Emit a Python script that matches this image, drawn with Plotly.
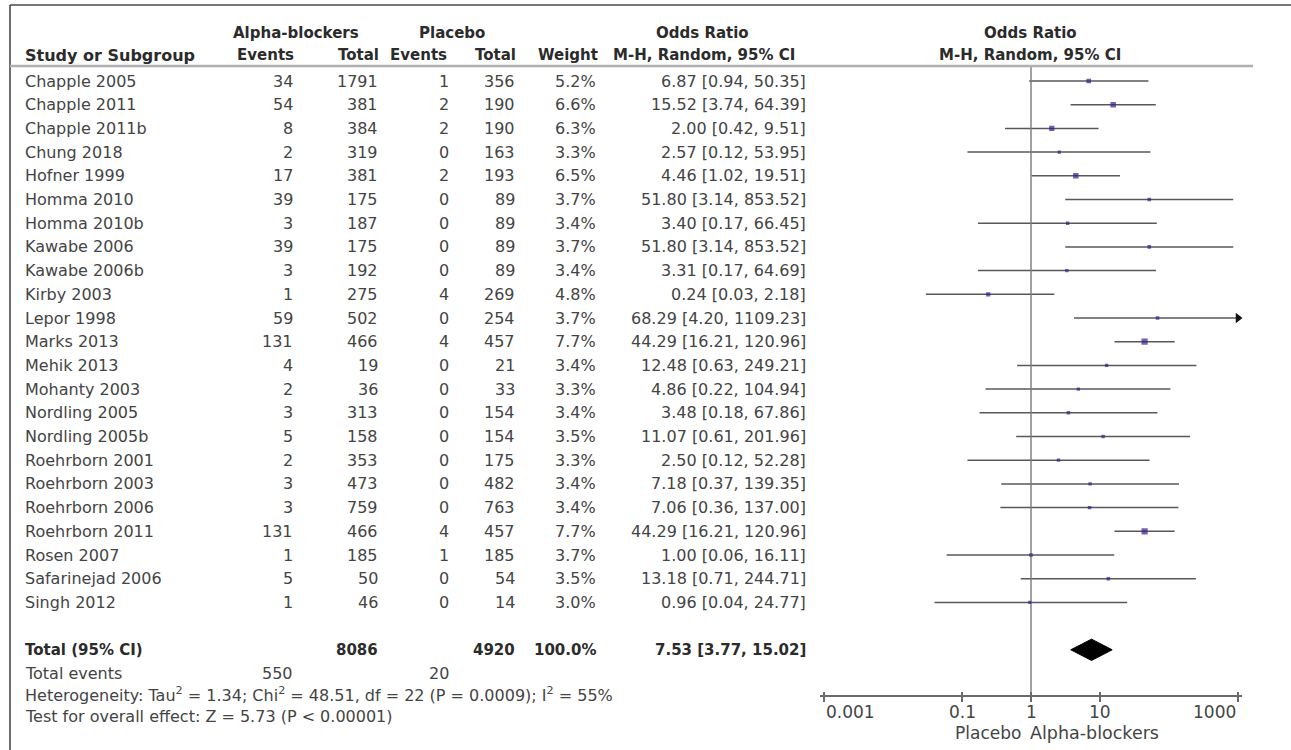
import plotly.graph_objects as go
import math

# ---------------- data ----------------
studies = ["Chapple 2005", "Chapple 2011", "Chapple 2011b", "Chung 2018", "Hofner 1999",
           "Homma 2010", "Homma 2010b", "Kawabe 2006", "Kawabe 2006b", "Kirby 2003",
           "Lepor 1998", "Marks 2013", "Mehik 2013", "Mohanty 2003", "Nordling 2005",
           "Nordling 2005b", "Roehrborn 2001", "Roehrborn 2003", "Roehrborn 2006",
           "Roehrborn 2011", "Rosen 2007", "Safarinejad 2006", "Singh 2012"]
alpha_events = [34, 54, 8, 2, 17, 39, 3, 39, 3, 1, 59, 131, 4, 2, 3, 5, 2, 3, 3, 131, 1, 5, 1]
alpha_total = [1791, 381, 384, 319, 381, 175, 187, 175, 192, 275, 502, 466, 19, 36, 313,
               158, 353, 473, 759, 466, 185, 50, 46]
placebo_events = [1, 2, 2, 0, 2, 0, 0, 0, 0, 4, 0, 4, 0, 0, 0, 0, 0, 0, 0, 4, 1, 0, 0]
placebo_total = [356, 190, 190, 163, 193, 89, 89, 89, 89, 269, 254, 457, 21, 33, 154,
                 154, 175, 482, 763, 457, 185, 54, 14]
weights = [5.2, 6.6, 6.3, 3.3, 6.5, 3.7, 3.4, 3.7, 3.4, 4.8, 3.7, 7.7, 3.4, 3.3, 3.4,
           3.5, 3.3, 3.4, 3.4, 7.7, 3.7, 3.5, 3.0]
odds_ratio = [6.87, 15.52, 2.00, 2.57, 4.46, 51.80, 3.40, 51.80, 3.31, 0.24, 68.29, 44.29,
              12.48, 4.86, 3.48, 11.07, 2.50, 7.18, 7.06, 44.29, 1.00, 13.18, 0.96]
ci_low = [0.94, 3.74, 0.42, 0.12, 1.02, 3.14, 0.17, 3.14, 0.17, 0.03, 4.20, 16.21, 0.63,
          0.22, 0.18, 0.61, 0.12, 0.37, 0.36, 16.21, 0.06, 0.71, 0.04]
ci_high = [50.35, 64.39, 9.51, 53.95, 19.51, 853.52, 66.45, 853.52, 64.69, 2.18, 1109.23,
           120.96, 249.21, 104.94, 67.86, 201.96, 52.28, 139.35, 137.00, 120.96, 16.11,
           244.71, 24.77]

total_label = "Total (95% CI)"
total_alpha = 8086
total_placebo = 4920
total_weight = 100.0
total_or, total_low, total_high = 7.53, 3.77, 15.02
total_events_alpha = 550
total_events_placebo = 20
heterogeneity_text = ("Heterogeneity: Tau<sup>2</sup> = 1.34; Chi<sup>2</sup> = 48.51, df = 22 "
                      "(P = 0.0009); I<sup>2</sup> = 55%")
overall_text = "Test for overall effect: Z = 5.73 (P &lt; 0.00001)"
tick_vals = [0.001, 0.1, 1, 10, 1000]
tick_text = ["0.001", "0.1", "1", "10", "1000"]
favours_left = "Placebo"
favours_right = "Alpha-blockers"

# ---------------- layout constants (pixels) ----------------
W, H = 1291, 750
ROW0_PX, ROW_H = 81, 23.7
AX_L_PX, AX_R_PX = 824, 1238
PAD = 0.06  # decades of padding on log axis
DEC_PX = (AX_R_PX - AX_L_PX) / 6.0


def row_of(px):
    return (px - ROW0_PX) / ROW_H


def px_x(px):
    return px / W


XMIN, XMAX = min(tick_vals), max(tick_vals)
dom0 = (AX_L_PX - PAD * DEC_PX) / W
dom1 = (AX_R_PX + PAD * DEC_PX) / W

TXT = "#444444"
DARK = "#2b2b2b"
FONT = "DejaVu Sans"
FS = 16
FS_HEAD = 15
FS_FOOT = 16
FS_AX = 17

fig = go.Figure()

n = len(studies)
rows = list(range(n))

# CI lines
lx, ly = [], []
for i in rows:
    lx += [max(ci_low[i], XMIN), min(ci_high[i], XMAX), None]
    ly += [i, i, None]
fig.add_trace(go.Scatter(x=lx, y=ly, mode="lines", line=dict(color="#585858", width=1.5),
                         hoverinfo="skip", showlegend=False))

# line of no effect
fig.add_trace(go.Scatter(x=[1, 1], y=[row_of(67), row_of(696)], mode="lines",
                         line=dict(color="#7a7a7a", width=1.4), hoverinfo="skip",
                         showlegend=False))

# arrows for truncated CIs
ax_i = [i for i in rows if ci_high[i] > XMAX]
fig.add_trace(go.Scatter(x=[XMAX] * len(ax_i), y=ax_i, mode="markers",
                         marker=dict(symbol="triangle-right", size=9, color="#111111"),
                         cliponaxis=False, hoverinfo="skip", showlegend=False))

# point estimates
fig.add_trace(go.Scatter(x=odds_ratio, y=rows, mode="markers",
                         marker=dict(symbol="square", color="#3a1d8f",
                                     size=[1.2 + 0.65 * w for w in weights],
                                     line=dict(width=0)),
                         hoverinfo="skip", showlegend=False))

# pooled diamond
tr = 24
hh = 0.45
fig.add_trace(go.Scatter(x=[total_low, total_or, total_high, total_or, total_low],
                         y=[tr, tr - hh, tr, tr + hh, tr], mode="lines", fill="toself",
                         fillcolor="black", line=dict(color="black", width=1),
                         hoverinfo="skip", showlegend=False))

# dummy trace for overlay axis (ticks crossing the axis line)
fig.add_trace(go.Scatter(x=[1], y=[0], xaxis="x2", yaxis="y", mode="markers",
                         marker=dict(opacity=0), hoverinfo="skip", showlegend=False))

ann = []


def text(xpx, y, s, anchor="right", bold=False, size=FS, color=TXT, yref="y"):
    ann.append(dict(x=px_x(xpx), xref="paper", y=y, yref=yref,
                    text=("<b>%s</b>" % s) if bold else s, showarrow=False,
                    xanchor=anchor, yanchor="middle",
                    font=dict(family=FONT, size=size, color=DARK if bold else color)))


# headers
h1, h2 = row_of(33), row_of(55)
text(296, h1, "Alpha-blockers", "center", True, FS_HEAD)
text(452, h1, "Placebo", "center", True, FS_HEAD)
text(702, h1, "Odds Ratio", "center", True, FS_HEAD)
text(1030, h1, "Odds Ratio", "center", True, FS_HEAD)
text(23, h2, "Study or Subgroup", "left", True, FS)
text(296, h2, "Events", "right", True, FS_HEAD)
text(381, h2, "Total", "right", True, FS_HEAD)
text(449, h2, "Events", "right", True, FS_HEAD)
text(518, h2, "Total", "right", True, FS_HEAD)
text(600, h2, "Weight", "right", True, FS_HEAD)
text(704, h2, "M-H, Random, 95% CI", "center", True, FS_HEAD)
text(1030, h2, "M-H, Random, 95% CI", "center", True, FS_HEAD)

# study rows
for i in rows:
    text(23, i, studies[i], "left")
    text(295, i, str(alpha_events[i]))
    text(380, i, str(alpha_total[i]))
    text(451, i, str(placebo_events[i]))
    text(517, i, str(placebo_total[i]))
    text(598, i, "%.1f%%" % weights[i])
    text(808, i, "%.2f [%.2f, %.2f]" % (odds_ratio[i], ci_low[i], ci_high[i]))

# total row
text(23, tr, total_label, "left", True, FS_HEAD)
text(380, tr, str(total_alpha), "right", True, FS_HEAD)
text(517, tr, str(total_placebo), "right", True, FS_HEAD)
text(598, tr, "%.1f%%" % total_weight, "right", True, FS_HEAD)
text(808, tr, "%.2f [%.2f, %.2f]" % (total_or, total_low, total_high), "right", True, FS_HEAD)

# footer
fr = row_of(673)
text(23, fr, "Total events", "left", size=FS_FOOT)
text(295, fr, str(total_events_alpha), "right", size=FS_FOOT)
text(451, fr, str(total_events_placebo), "right", size=FS_FOOT)
text(23, row_of(694), heterogeneity_text, "left", size=FS_FOOT)
text(23, row_of(716), overall_text, "left", size=FS_FOOT)

# axis tick labels (end labels aligned inward as in RevMan)
lab_y = row_of(712)
for v, t in zip(tick_vals, tick_text):
    anc = "left" if v == XMIN else ("right" if v == XMAX else "center")
    ann.append(dict(x=math.log10(v), xref="x", y=lab_y, yref="y", text=t, showarrow=False,
                    xanchor=anc, yanchor="middle",
                    font=dict(family=FONT, size=FS_AX, color=TXT)))

fav_y = row_of(733)
ann.append(dict(x=0, xref="x", y=fav_y, yref="y", text=favours_left, showarrow=False,
                xanchor="right", xshift=-8, yanchor="middle",
                font=dict(family=FONT, size=FS_AX, color=TXT)))
ann.append(dict(x=0, xref="x", y=fav_y, yref="y", text=favours_right, showarrow=False,
                xanchor="left", xshift=-3, yanchor="middle",
                font=dict(family=FONT, size=FS_AX + 0.5, color=TXT)))

shapes = [
    # frame: top and left
    dict(type="line", xref="paper", yref="paper", x0=px_x(10), x1=1, y0=1 - 5 / H, y1=1 - 5 / H,
         line=dict(color="#4a4a4a", width=1.6)),
    dict(type="line", xref="paper", yref="paper", x0=px_x(10), x1=px_x(10), y0=0, y1=1 - 5 / H,
         line=dict(color="#4a4a4a", width=1.6)),
    # header rule
    dict(type="line", xref="paper", yref="y", x0=px_x(10), x1=px_x(1253), y0=row_of(66),
         y1=row_of(66), line=dict(color="#b0b0b0", width=2.5)),
]

axis_pos = 1 - 696 / H
fig.update_layout(
    width=W, height=H, margin=dict(l=0, r=0, t=0, b=0),
    paper_bgcolor="white", plot_bgcolor="white", showlegend=False,
    annotations=ann, shapes=shapes,
    xaxis=dict(type="log", range=[math.log10(XMIN) - PAD, math.log10(XMAX) + PAD],
               domain=[dom0, dom1], anchor="free", position=axis_pos,
               showline=True, linecolor="#6a6a6a", linewidth=1.6,
               ticks="outside", ticklen=5, tickwidth=1.6, tickcolor="#6a6a6a",
               tickvals=tick_vals, showticklabels=False, showgrid=False, zeroline=False,
               fixedrange=True),
    xaxis2=dict(type="log", range=[math.log10(XMIN) - PAD, math.log10(XMAX) + PAD],
                domain=[dom0, dom1], anchor="free", position=axis_pos, overlaying="x",
                showline=False, ticks="inside", ticklen=4, tickwidth=1.6,
                tickcolor="#6a6a6a", tickvals=tick_vals, showticklabels=False,
                showgrid=False, zeroline=False, fixedrange=True),
    yaxis=dict(range=[row_of(H), row_of(0)], domain=[0, 1], visible=False,
               showgrid=False, zeroline=False, fixedrange=True),
)

fig.write_html("out.html", config={"displayModeBar": False},
               post_script="document.body.style.margin='0';document.body.style.overflow='hidden';")
